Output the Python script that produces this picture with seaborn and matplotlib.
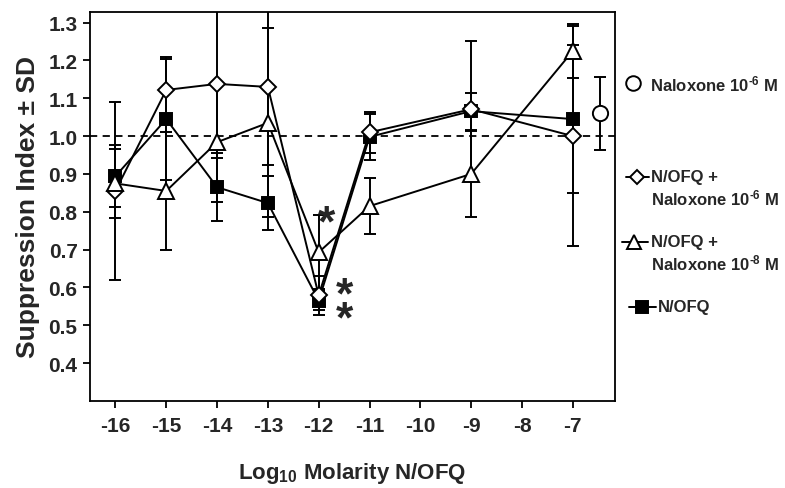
import matplotlib
matplotlib.use("Agg")
import matplotlib.pyplot as plt
import seaborn as sns
import numpy as np
import pandas as pd
from matplotlib.lines import Line2D

# ---- data ----
log_molarity = [-16, -15, -14, -13, -12, -11, -9, -7]
nofq = [0.894, 1.045, 0.865, 0.823, 0.565, 0.998, 1.066, 1.045]
nofq_sd = [0.082, 0.16, 0.09, 0.072, 0.025, 0.06, 0.049, 0.196]
nofq_nal6 = [0.855, 1.122, 1.138, 1.13, 0.579, 1.01, 1.071, 1.0]
nofq_nal6_sd = [0.235, 0.087, 0.197, 0.207, 0.052, 0.055, 0.18, 0.29]
nofq_nal8 = [0.875, 0.855, 0.984, 1.035, 0.693, 0.815, 0.90, 1.225]
nofq_nal8_sd = [0.092, 0.155, 0.159, 0.25, 0.098, 0.074, 0.114, 0.072]
naloxone_x = [-6.47]
naloxone = [1.06]
naloxone_sd = [0.097]

xticks = [-16, -15, -14, -13, -12, -11, -10, -9, -8, -7]
yticks = [0.4, 0.5, 0.6, 0.7, 0.8, 0.9, 1.0, 1.1, 1.2, 1.3]

sns.set_theme(style="white")
plt.rcParams["font.family"] = ["Liberation Sans", "DejaVu Sans"]
plt.rcParams["font.weight"] = "bold"
plt.rcParams["mathtext.fontset"] = "custom"
plt.rcParams["mathtext.rm"] = "Liberation Sans:bold"
plt.rcParams["mathtext.bf"] = "Liberation Sans:bold"
plt.rcParams["mathtext.it"] = "Liberation Sans:bold"
plt.rcParams["mathtext.default"] = "rm"

fig = plt.figure(figsize=(7.85, 4.89), dpi=100)
ax = fig.add_axes([90/785, 1-402/489, (615-90)/785, (402-13)/489])

lw = 1.4
cap = 4.3

series = [
    ("N/OFQ", nofq, nofq_sd, "s", "black", 9, 3),
    ("N/OFQ + Naloxone 10-6 M", nofq_nal6, nofq_nal6_sd, "D", "white", 8, 4),
    ("N/OFQ + Naloxone 10-8 M", nofq_nal8, nofq_nal8_sd, "^", "white", 11.5, 5),
]

for name, y, sd, mk, fc, ms, z in series:
    ax.errorbar(log_molarity, y, yerr=sd, fmt="none", ecolor="black",
                elinewidth=lw, capsize=cap, capthick=lw, zorder=2)
    df = pd.DataFrame({"x": log_molarity, "y": y})
    sns.lineplot(data=df, x="x", y="y", ax=ax, color="black", linewidth=lw,
                 marker=mk, markersize=ms, markerfacecolor=fc,
                 markeredgecolor="black", markeredgewidth=lw, zorder=z)

ax.errorbar(naloxone_x, naloxone, yerr=naloxone_sd, fmt="none", ecolor="black",
            elinewidth=lw, capsize=cap, capthick=lw, zorder=2)
sns.scatterplot(x=naloxone_x, y=naloxone, ax=ax, marker="o", s=120,
                facecolor="white", edgecolor="black", linewidth=lw, zorder=6)

ax.axhline(1.0, color="black", linestyle=(0, (4, 3)), linewidth=1.3, zorder=1)

# significance stars
ax.text(-11.85, 0.768, "*", fontsize=32, fontweight="bold", ha="center", va="center")
ax.text(-11.49, 0.545, "*\n*", fontsize=32, fontweight="bold", ha="center",
        va="center", linespacing=0.47)

ax.set_xlim(-16.5, -6.17)
ax.set_ylim(0.30, 1.328)
ax.set_xticks(xticks)
ax.set_xticklabels([str(t) for t in xticks])
ax.set_yticks(yticks)
ax.set_yticklabels([f"{t:.1f}" for t in yticks])
ax.tick_params(axis="both", direction="out", length=5, width=1.3, color="black",
               labelsize=15, pad=4)
ax.tick_params(axis="x", pad=6)
ax.tick_params(bottom=True, left=True)
for lab in ax.get_xticklabels() + ax.get_yticklabels():
    lab.set_fontweight("bold")
for sp in ax.spines.values():
    sp.set_color("black")
    sp.set_linewidth(1.3)

ax.set_xlabel("Log$_{10}$ Molarity N/OFQ", fontsize=16, fontweight="bold", labelpad=18)
ax.set_ylabel("Suppression Index \u00b1 SD", fontsize=19, fontweight="bold", labelpad=6)

# ---- legend (figure coords in pixels) ----
W, H = 785, 489
def fx(px):
    return px / W
def fy(py):
    return 1 - py / H

def handle(xm, ym, x0, x1, mk, fc, ms):
    if x0 is not None:
        fig.add_artist(Line2D([fx(x0), fx(x1)], [fy(ym), fy(ym)], color="black",
                              linewidth=lw, transform=fig.transFigure))
    fig.add_artist(Line2D([fx(xm)], [fy(ym)], marker=mk, markersize=ms,
                          markerfacecolor=fc, markeredgecolor="black",
                          markeredgewidth=lw, linestyle="none",
                          transform=fig.transFigure))

tfs = 12
nal6 = r"Naloxone 10$^{\text{-}6}$ M"
nal8 = r"Naloxone 10$^{\text{-}8}$ M"
handle(633, 84, None, None, "o", "white", 10.5)
fig.text(fx(650), fy(84), nal6, fontsize=tfs, fontweight="bold", va="center")

handle(637, 178, 626, 649, "D", "white", 7.5)
fig.text(fx(651), fy(178), "N/OFQ +", fontsize=tfs, fontweight="bold", va="center")
fig.text(fx(651), fy(198), nal6, fontsize=tfs, fontweight="bold", va="center")

handle(634, 243, 622, 648, "^", "white", 10.5)
fig.text(fx(651), fy(243), "N/OFQ +", fontsize=tfs, fontweight="bold", va="center")
fig.text(fx(651), fy(263), nal8, fontsize=tfs, fontweight="bold", va="center")

handle(642, 308, 629, 656, "s", "black", 8.5)
fig.text(fx(658), fy(308), "N/OFQ", fontsize=tfs, fontweight="bold", va="center")

fig.savefig("out.png", dpi=100)
